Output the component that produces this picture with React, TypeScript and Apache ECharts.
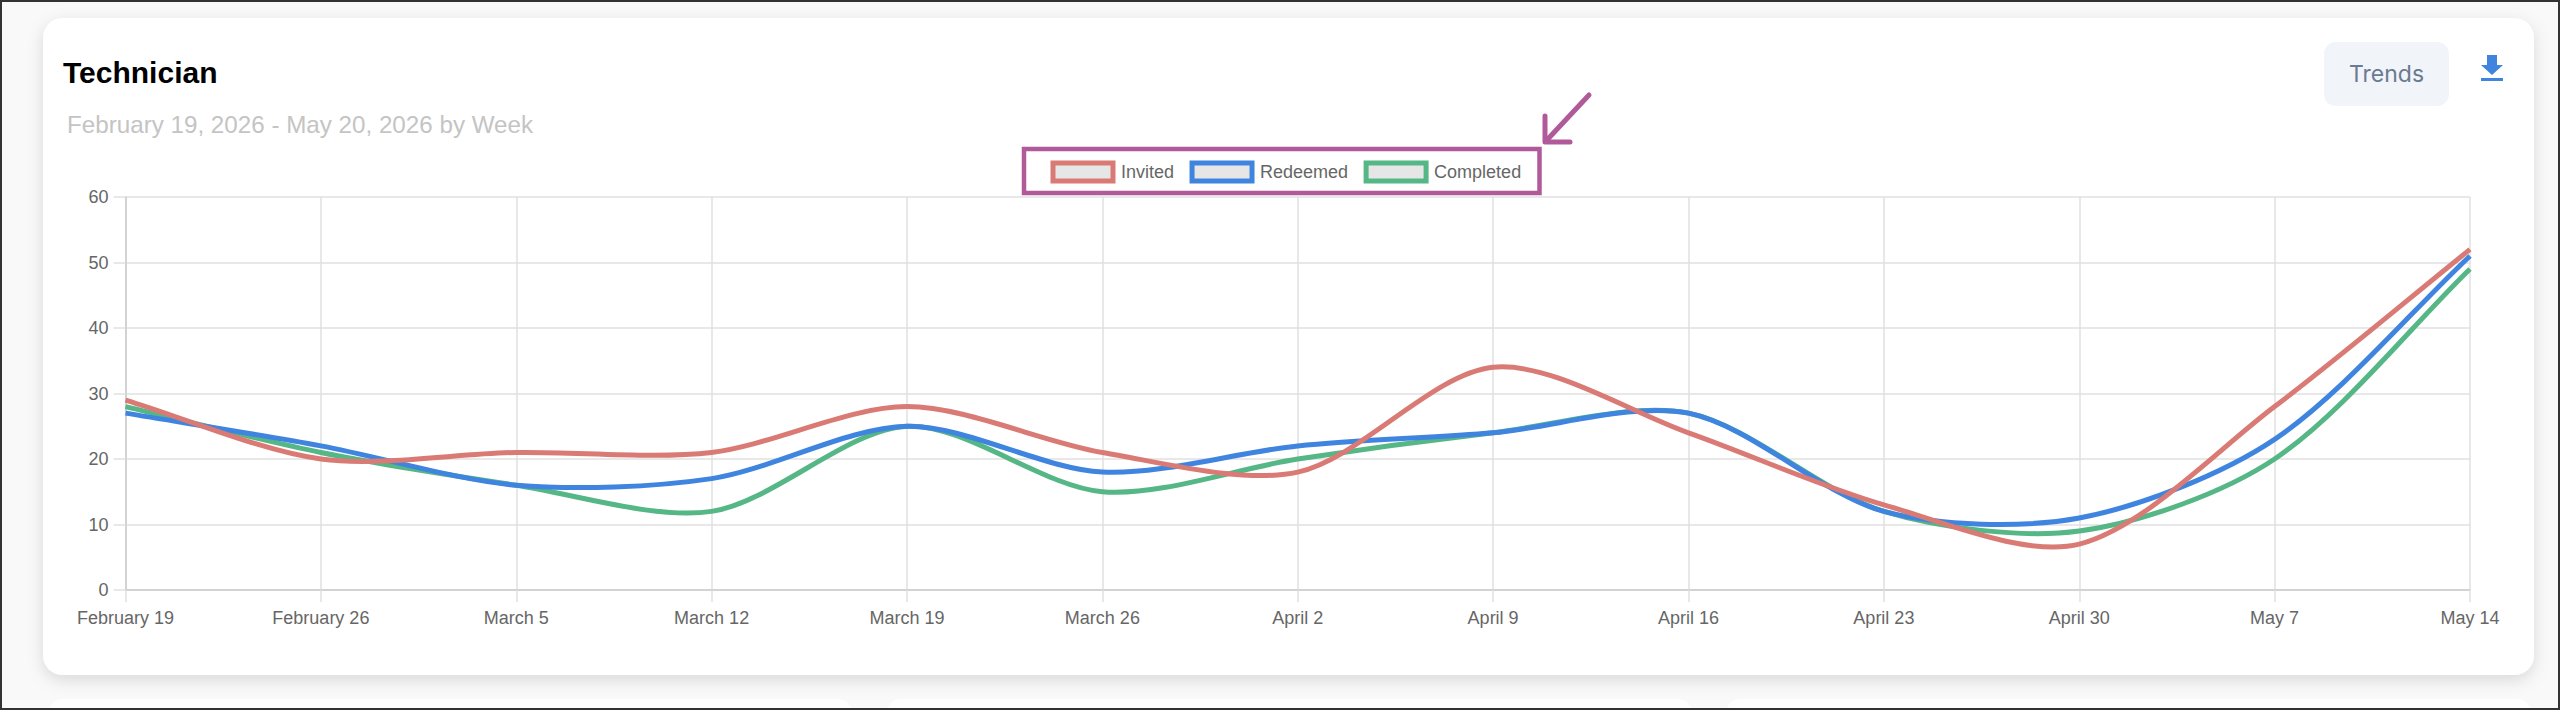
import React, { useEffect, useRef } from "react";
import * as echarts from "echarts";

const categories = ["February 19","February 26","March 5","March 12","March 19","March 26","April 2","April 9","April 16","April 23","April 30","May 7","May 14"];
const invited = [29,20,21,21,28,21,18,34,24,13,7,28,52];
const redeemed = [27,22,16,17,25,18,22,24,27,12,11,23,51];
const completed = [28,21,16,12,25,15,20,24,27,12,9,20,49];
const seriesNames = ["Invited","Redeemed","Completed"];
const seriesColors = ["#d97a75","#3f85e0","#55b686"];
const seriesValues = [invited, redeemed, completed];
const tension = 0.3;
const font = "'Liberation Sans', Arial, sans-serif";

// Spline through the data points, positioned by the chart's own axes.
function splinePath(points: number[][]) {
  const n = points.length;
  const cps = points.map((p, i) => {
    const a = points[Math.max(i - 1, 0)];
    const b = points[Math.min(i + 1, n - 1)];
    const d01 = Math.hypot(p[0] - a[0], p[1] - a[1]);
    const d12 = Math.hypot(b[0] - p[0], b[1] - p[1]);
    const sum = d01 + d12 || 1;
    const fa = (tension * d01) / sum;
    const fb = (tension * d12) / sum;
    return {
      prev: [p[0] - fa * (b[0] - a[0]), p[1] - fa * (b[1] - a[1])],
      next: [p[0] + fb * (b[0] - a[0]), p[1] + fb * (b[1] - a[1])],
    };
  });
  let d = `M${points[0][0]} ${points[0][1]}`;
  for (let i = 1; i < n; i++) {
    const c1 = cps[i - 1].next;
    const c2 = cps[i].prev;
    d += `C${c1[0]} ${c1[1]} ${c2[0]} ${c2[1]} ${points[i][0]} ${points[i][1]}`;
  }
  return d;
}

const lowerCards = [[49, 803], [887, 805], [1726, 805]];

export default function App() {
  const ref = useRef<HTMLDivElement>(null);
  useEffect(() => {
    const chart = echarts.init(ref.current!, null, { renderer: "svg" });
    chart.setOption({
      animation: false,
      backgroundColor: "#f9f9f9",
      textStyle: { fontFamily: font },
      grid: { left: 125.5, right: 90, top: 197, bottom: 120, containLabel: false },
      legend: {
        left: 1050.5,
        top: 160.5,
        padding: 0,
        itemWidth: 60,
        itemHeight: 18,
        itemGap: 15.5,
        icon: "rect",
        data: seriesNames.map((name, i) => ({
          name,
          icon: "rect",
          itemStyle: { color: "#e6e6e6", borderColor: seriesColors[i], borderWidth: 5 },
        })),
        textStyle: { color: "#666", fontSize: 18, fontFamily: font, padding: [0, 0, 0, 3] },
      },
      xAxis: {
        type: "category",
        boundaryGap: false,
        data: categories,
        axisLine: { lineStyle: { color: "#cccccc", width: 1.5 } },
        axisTick: { show: true, length: 12, alignWithLabel: true, lineStyle: { color: "#e0e0e0", width: 1.5 } },
        axisLabel: { interval: 0, color: "#666", fontSize: 18, margin: 19, fontFamily: font, showMaxLabel: true, showMinLabel: true },
        splitLine: { show: true, interval: 0, lineStyle: { color: "#e0e0e0", width: 1.5 } },
      },
      yAxis: {
        type: "value",
        min: 0,
        max: 60,
        interval: 10,
        axisLine: { show: true, lineStyle: { color: "#cccccc", width: 1.5 } },
        axisTick: { show: true, length: 12, lineStyle: { color: "#e0e0e0", width: 1.5 } },
        axisLabel: { color: "#666", fontSize: 18, margin: 17, fontFamily: font },
        splitLine: { show: true, lineStyle: { color: "#e0e0e0", width: 1.5 } },
      },
      series: seriesNames.map((name, i) => ({
        name,
        type: "custom",
        coordinateSystem: "cartesian2d",
        data: seriesValues[i].map((v, k) => [k, v]),
        encode: { x: 0, y: 1 },
        z: 5 - i,
        clip: false,
        itemStyle: { color: seriesColors[i] },
        renderItem: (params: any, api: any) => {
          if (params.dataIndex !== 0) return null;
          const pts = seriesValues[i].map((v, k) => api.coord([k, v]));
          return {
            type: "path",
            shape: { pathData: splinePath(pts) },
            style: { fill: "none", stroke: seriesColors[i], lineWidth: 5, lineJoin: "round" },
          };
        },
      })),
      graphic: [
        { type: "rect", z: -10, silent: true, shape: { x: 1, y: 1, width: 2558, height: 708 }, style: { fill: "none", stroke: "#333", lineWidth: 2 } },
        { type: "rect", z: -9, silent: true, shape: { x: 43, y: 18, width: 2491, height: 657, r: 20 }, style: { fill: "#fff", shadowBlur: 16, shadowColor: "rgba(0,0,0,0.13)", shadowOffsetY: 5 } },
        ...lowerCards.map(([x, w]) => ({ type: "rect", z: -9, silent: true, shape: { x, y: 699, width: w, height: 40, r: 14 }, style: { fill: "#fff" } })),
        { type: "rect", z: -8, silent: true, shape: { x: 0, y: 708, width: 2560, height: 2 }, style: { fill: "#333" } },
        { type: "text", x: 63, y: 72, style: { text: "Technician", fontFamily: font, fontSize: 30, fontWeight: "bold", fill: "#000", verticalAlign: "middle" } },
        { type: "text", x: 67, y: 124, style: { text: "February 19, 2026 - May 20, 2026 by Week", fontFamily: font, fontSize: 24.2, fill: "#c4c4c4", verticalAlign: "middle" } },
        { type: "rect", shape: { x: 2324, y: 42, width: 125, height: 64, r: 12 }, style: { fill: "#f1f4f9" } },
        { type: "text", x: 2386.5, y: 74, style: { text: "Trends", fontFamily: "Inter, 'Liberation Sans', sans-serif", fontSize: 23, fill: "#6b7a90", align: "center", verticalAlign: "middle" } },
        { type: "polygon", shape: { points: [[2487,55],[2497,55],[2497,65],[2503,65],[2492,75],[2481,65],[2487,65]] }, style: { fill: "#3f85e0" } },
        { type: "rect", shape: { x: 2481, y: 78, width: 22, height: 3 }, style: { fill: "#3f85e0" } },
        { type: "rect", z: 20, shape: { x: 1024, y: 149, width: 515.5, height: 44 }, style: { fill: "none", stroke: "#b05a9a", lineWidth: 4.5 } },
        { type: "line", z: 20, shape: { x1: 1589, y1: 95, x2: 1546, y2: 141 }, style: { stroke: "#b05a9a", lineWidth: 5, lineCap: "round" } },
        { type: "polyline", z: 20, shape: { points: [[1545,116],[1545,142],[1570,142]] }, style: { fill: "none", stroke: "#b05a9a", lineWidth: 5, lineCap: "round", lineJoin: "round" } },
      ],
    });
    return () => chart.dispose();
  }, []);
  return <div ref={ref} style={{ position: "fixed", left: 0, top: 0, width: 2560, height: 710 }} />;
}
